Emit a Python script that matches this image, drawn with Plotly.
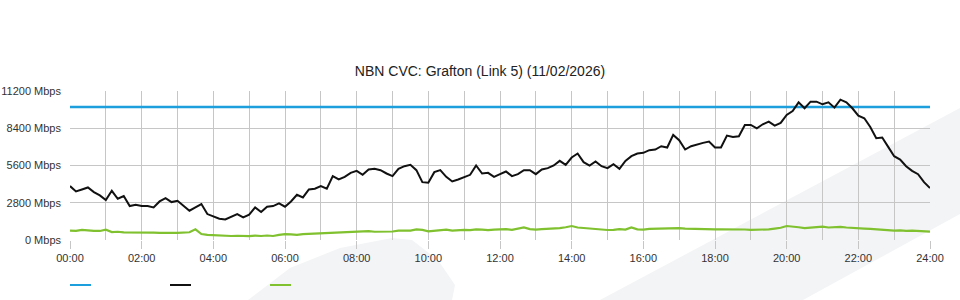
import plotly.graph_objects as go

# ---------------- data ----------------
title_text = "NBN CVC: Grafton (Link 5) (11/02/2026)"
tick_hours = [0, 2, 4, 6, 8, 10, 12, 14, 16, 18, 20, 22, 24]
tick_labels = ["00:00", "02:00", "04:00", "06:00", "08:00", "10:00", "12:00",
               "14:00", "16:00", "18:00", "20:00", "22:00", "24:00"]
y_ticks = [0, 2800, 5600, 8400, 11200]
y_tick_labels = ["0 Mbps", "2800 Mbps", "5600 Mbps", "8400 Mbps", "11200 Mbps"]

# sample times, every 10 minutes (in hours)
times = [i / 6 for i in range(145)]

capacity_hours = [0, 24]
capacity = [10000, 10000]

download = [
    4050, 3650, 3800, 3950, 3600, 3350,
    3000, 3700, 3100, 3300, 2550, 2650,
    2550, 2550, 2450, 2900, 3150, 2850,
    2950, 2550, 2200, 2450, 2700, 1950,
    1800, 1600, 1550, 1750, 1950, 1700,
    1900, 2450, 2100, 2500, 2550, 2750,
    2500, 2900, 3400, 3200, 3800, 3850,
    4050, 3850, 4800, 4550, 4750, 5050,
    5200, 4900, 5300, 5350, 5250, 5000,
    4800, 5350, 5550, 5650, 5250, 4350,
    4300, 5100, 5250, 4750, 4400, 4550,
    4700, 4900, 5600, 5000, 5050, 4750,
    4950, 5150, 4800, 4950, 5250, 5250,
    4950, 5300, 5400, 5600, 5950, 5650,
    6200, 6500, 5850, 5600, 5900, 5550,
    5400, 5700, 5350, 5950, 6300, 6500,
    6550, 6750, 6800, 7050, 6950, 7900,
    7500, 6800, 7050, 7200, 7300, 7400,
    6950, 6950, 7850, 7750, 7800, 8650,
    8650, 8400, 8700, 8900, 8600, 8800,
    9400, 9700, 10350, 9900, 10400, 10400,
    10200, 10350, 9950, 10550, 10350, 9900,
    9350, 9150, 8500, 7650, 7700, 7000,
    6300, 6050, 5550, 5200, 4950, 4350,
    3900,
]

upload = [
    700, 680, 760, 700, 680, 680,
    780, 600, 620, 580, 580, 590,
    600, 560, 560, 540, 560, 540,
    540, 560, 580, 800, 450, 380,
    360, 330, 300, 300, 320, 300,
    290, 330, 300, 340, 300, 380,
    440, 420, 380, 440, 460, 480,
    500, 520, 500, 540, 560, 560,
    600, 620, 660, 620, 620, 640,
    640, 700, 720, 700, 800, 760,
    650, 700, 720, 780, 700, 740,
    760, 740, 800, 780, 740, 780,
    780, 820, 760, 880, 950, 820,
    780, 820, 850, 840, 900, 960,
    1050, 940, 900, 880, 820, 800,
    750, 760, 820, 780, 950, 800,
    780, 840, 860, 880, 900, 880,
    900, 860, 840, 820, 800, 800,
    800, 800, 800, 820, 800, 790,
    760, 760, 780, 800, 860, 920,
    1050, 980, 960, 900, 920, 960,
    1000, 940, 960, 980, 940, 930,
    900, 860, 840, 800, 760, 760,
    700, 720, 680, 700, 660, 640,
    625,
]

BLUE = "#1c9fdc"
BLACK = "#111111"
GREEN = "#7fc12e"
GRID = "#c6c6c6"
FONT = "Liberation Sans, Arial, sans-serif"

# ---------------- figure ----------------
W, H = 960, 300
L, R, T, B = 70, 30, 91, 60
PW, PH = W - L - R, H - T - B


def px(x, y):
    """pixel -> paper coordinates"""
    return (x - L) / PW, (H - B - y) / PH


def path(points):
    pts = [px(x, y) for x, y in points]
    s = "M " + " L ".join(f"{a:.4f},{b:.4f}" for a, b in pts) + " Z"
    return s


fig = go.Figure()
fig.add_trace(go.Scatter(x=capacity_hours, y=capacity, mode="lines",
                         line=dict(color=BLUE, width=2.5), name="", showlegend=False,
                         hoverinfo="skip"))
fig.add_trace(go.Scatter(x=times, y=download, mode="lines",
                         line=dict(color=BLACK, width=2), name="", showlegend=False))
fig.add_trace(go.Scatter(x=times, y=upload, mode="lines",
                         line=dict(color=GREEN, width=2.2), name="", showlegend=False))

shapes = []
# watermark background shapes
shapes.append(dict(type="path", xref="paper", yref="paper", layer="below",
                   path=path([(248, 300), (290, 268), (340, 248), (392, 238), (412, 240),
                              (438, 260), (455, 285), (452, 300)]),
                   fillcolor="#f3f4f6", line=dict(width=0)))
shapes.append(dict(type="path", xref="paper", yref="paper", layer="below",
                   path=path([(600, 300), (960, 108), (960, 214), (803, 300)]),
                   fillcolor="#f3f4f6", line=dict(width=0)))
# legend swatches
for i, c in enumerate([BLUE, BLACK, GREEN]):
    x0, y0 = px(70 + 100 * i, 285)
    x1, _ = px(91 + 100 * i, 285)
    shapes.append(dict(type="line", xref="paper", yref="paper", x0=x0, x1=x1, y0=y0, y1=y0,
                       line=dict(color=c, width=2)))

fig.update_layout(
    width=W, height=H,
    margin=dict(l=L, r=R, t=T, b=B, pad=0, autoexpand=False),
    paper_bgcolor="white",
    plot_bgcolor="rgba(0,0,0,0)",
    font=dict(family=FONT, size=11, color="#333333"),
    title=dict(text=title_text, x=0.5, xref="container", xanchor="center",
               y=1 - 71 / H, yref="container", yanchor="middle",
               font=dict(family=FONT, size=14, color="#222222")),
    showlegend=False,
    shapes=shapes,
)

fig.update_xaxes(
    range=[0, 24], tickvals=tick_hours, ticktext=tick_labels,
    showgrid=True, gridcolor=GRID, gridwidth=1,
    minor=dict(dtick=1, tick0=0, showgrid=True, gridcolor=GRID, gridwidth=1),
    ticks="outside", ticklen=8, tickcolor=GRID, tickwidth=1,
    zeroline=False, showline=False, automargin=False,
    tickfont=dict(family=FONT, size=11, color="#333333"),
)
fig.update_yaxes(
    range=[0, 11200], tickvals=y_ticks, ticktext=y_tick_labels,
    showgrid=True, gridcolor=GRID, gridwidth=1,
    zeroline=False, showline=False, ticks="", automargin=False,
    ticklabelstandoff=8,
    tickfont=dict(family=FONT, size=11, color="#333333"),
)

fig.write_html("out.html", config={"displayModeBar": False})
